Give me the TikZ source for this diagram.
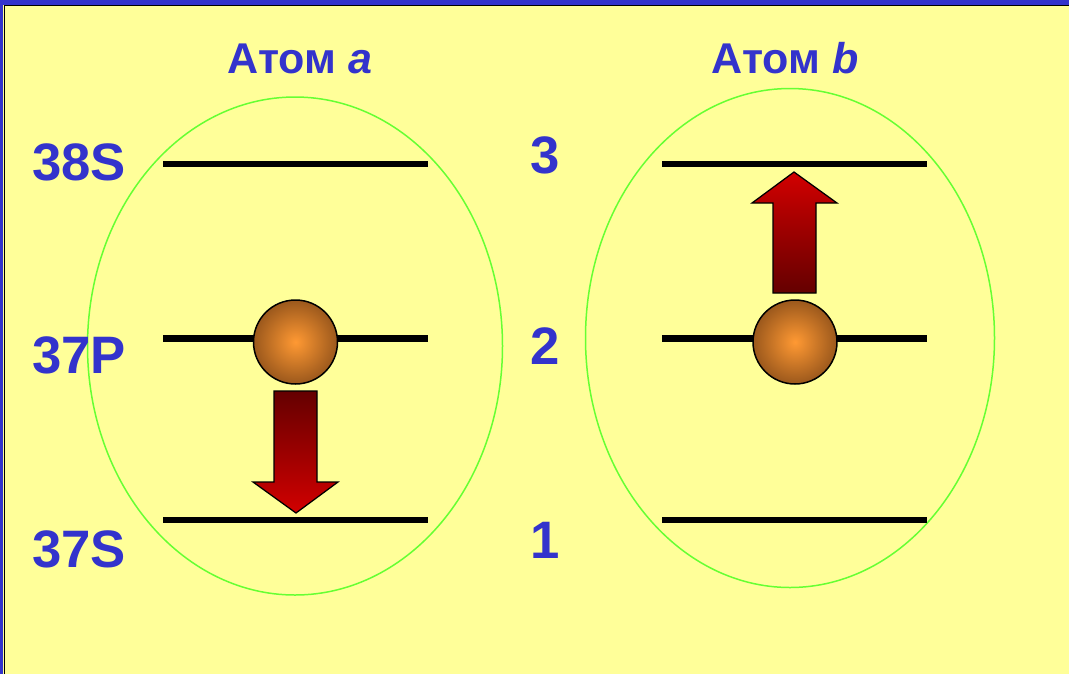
\documentclass[tikz,border=0pt]{standalone}
\usepackage{fontspec}
\setmainfont{Liberation Sans}
\usetikzlibrary{positioning}
\definecolor{bgyellow}{RGB}{255,255,153}
\definecolor{frameblue}{RGB}{51,51,204}
\definecolor{orbitgreen}{RGB}{102,255,51}
\definecolor{ballorange}{RGB}{255,153,51}
\definecolor{ballbrown}{RGB}{155,88,28}
\definecolor{jumpdark}{RGB}{100,0,0}
\definecolor{jumpred}{RGB}{210,0,0}

\begin{document}
\begin{tikzpicture}[
    x=0.02cm, y=-0.02cm,
    level/.style={line width=0.13cm},
    orbit/.style={draw=orbitgreen, line width=0.03cm},
    ball/.style={circle, draw, line width=0.03cm, minimum size=1.68cm, inner sep=0pt, inner color=ballorange, outer color=ballbrown},
    lbl/.style={font=\fontsize{30}{30}\selectfont\bfseries, text=frameblue, inner sep=0pt, anchor=base},
    title/.style={font=\fontsize{24.5}{24.5}\selectfont\bfseries, text=frameblue, inner sep=0pt, anchor=base},
    jump/.style={draw, line width=0.025cm}
]
% background and frame
\useasboundingbox (0,0) rectangle (1069,674);
\fill[bgyellow] (0,0) rectangle (1069,674);
\fill[frameblue] (0,0) rectangle (1069,5);
\fill[frameblue] (0,0) rectangle (3.5,674);
\draw[line width=0.03cm] (4.5,674) -- (4.5,5.5) -- (1069,5.5);

% atoms
\draw[orbit] (295,346) ellipse [x radius=207.5, y radius=249];
\draw[orbit] (790,338) ellipse [x radius=204.5, y radius=249.5];

% energy levels
\foreach \y in {164,338.5,520} {
    \draw[level] (163,\y) -- (428,\y);
    \draw[level] (662,\y) -- (927,\y);
}

% electrons
\node[ball] (elA) at (295.5,342) {};
\node[ball] (elB) at (795,342) {};

% transitions
\draw[jump, top color=jumpdark, bottom color=jumpred]
    (274,391) -- (317,391) -- (317,482) -- (338,482) -- (296,513)
    -- (253,482) -- (274,482) -- cycle;
\draw[jump, top color=jumpred, bottom color=jumpdark]
    (773,293) -- (816,293) -- (816,203) -- (837,203) -- (794,172)
    -- (752,203) -- (773,203) -- cycle;

% labels
\node[title] (atomA) at (300,73) {Атом \textit{a}};
\node[title] (atomB) at (785,73) {Атом \textit{b}};
\node[lbl, anchor=base west] (l38S) at (32,180) {38S};
\node[lbl, anchor=base west] (l37P) at (32,373) {37P};
\node[lbl, anchor=base west] (l37S) at (32,567) {37S};
\node[lbl] (n3) at (545,173) {3};
\node[lbl] (n2) at (545,364) {2};
\node[lbl] (n1) at (545,558) {1};
\end{tikzpicture}
\end{document}
